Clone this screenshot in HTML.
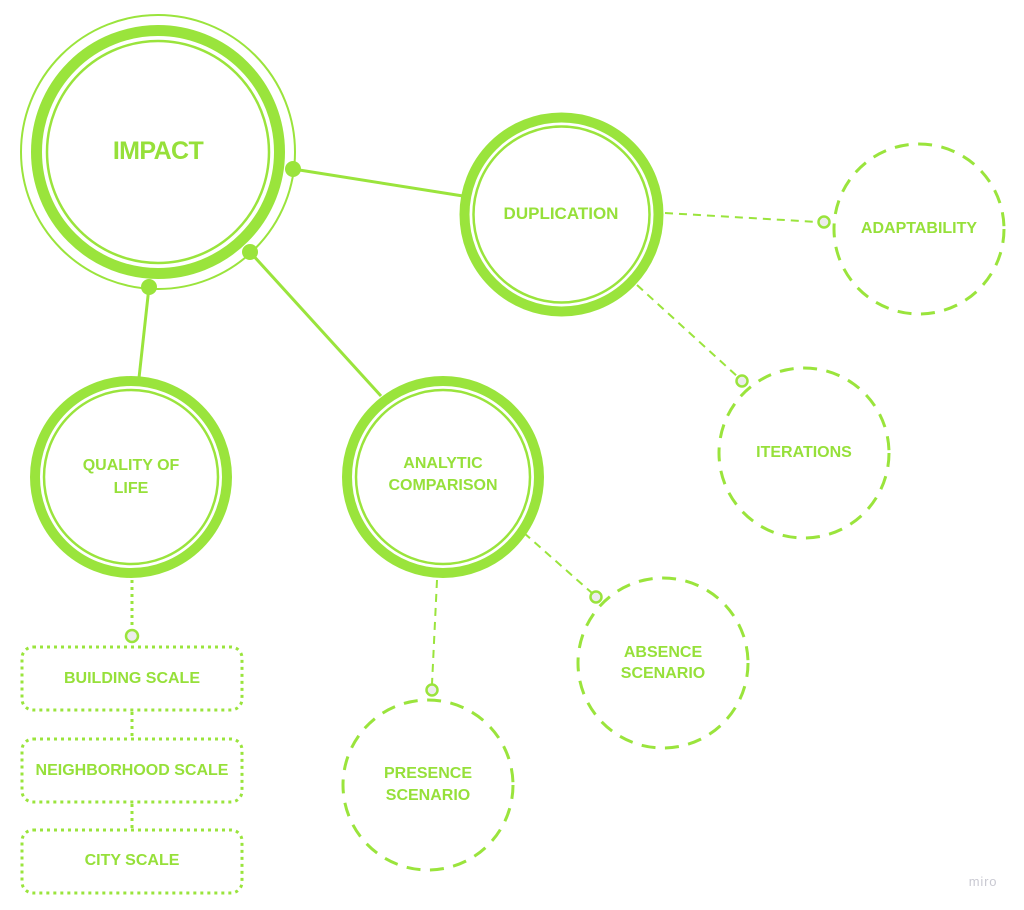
<!DOCTYPE html>
<html><head><meta charset="utf-8"><style>
html,body{margin:0;padding:0;background:#fff;}
svg{display:block;}
text{font-family:"Liberation Sans",Arial,sans-serif;font-weight:bold;fill:#96e03a;text-anchor:middle;}
</style></head><body>
<svg width="1024" height="910" viewBox="0 0 1024 910" xmlns="http://www.w3.org/2000/svg">
<rect width="1024" height="910" fill="#fff"/>
<g stroke="#9ae43c" fill="none">
  <!-- solid connectors -->
  <line x1="293" y1="169" x2="463" y2="196" stroke-width="3"/>
  <line x1="250" y1="252" x2="381" y2="396" stroke-width="3"/>
  <line x1="149" y1="287" x2="139" y2="378" stroke-width="3"/>
  <!-- IMPACT -->
  <circle cx="158" cy="152" r="137" stroke-width="2"/>
  <circle cx="158" cy="152" r="121.5" stroke-width="11"/>
  <circle cx="158" cy="152" r="111" stroke-width="2.5"/>
  <!-- DUPLICATION -->
  <circle cx="561.5" cy="214.5" r="97" stroke-width="10"/>
  <circle cx="561.5" cy="214.5" r="88" stroke-width="2.5"/>
  <!-- QUALITY -->
  <circle cx="131" cy="477" r="96" stroke-width="10"/>
  <circle cx="131" cy="477" r="87" stroke-width="2.5"/>
  <!-- ANALYTIC -->
  <circle cx="443" cy="477" r="96" stroke-width="10"/>
  <circle cx="443" cy="477" r="87" stroke-width="2.5"/>
  <!-- dashed connectors -->
  <g stroke-width="2" stroke-dasharray="8 6">
    <line x1="665" y1="213" x2="818" y2="222"/>
    <line x1="637" y1="285" x2="738" y2="377"/>
    <line x1="524" y1="533" x2="592" y2="593"/>
    <line x1="437" y1="580" x2="432" y2="684"/>
  </g>
  <!-- dashed circles -->
  <g stroke-width="3" stroke-dasharray="14 9.5">
    <circle cx="919" cy="229" r="85"/>
    <circle cx="804" cy="453" r="85"/>
    <circle cx="663" cy="663" r="85"/>
    <circle cx="428" cy="785" r="85"/>
  </g>
  <!-- dotted boxes -->
  <g stroke-width="3" stroke-dasharray="3 4">
    <line x1="132" y1="580" x2="132" y2="630"/>
    <rect x="22" y="647" width="220" height="63" rx="11"/>
    <line x1="132" y1="712" x2="132" y2="737"/>
    <rect x="22" y="739" width="220" height="63" rx="11"/>
    <line x1="132" y1="804" x2="132" y2="828"/>
    <rect x="22" y="830" width="220" height="63" rx="11"/>
  </g>
</g>
<!-- filled dots -->
<g fill="#9ae43c">
  <circle cx="293" cy="169" r="8"/>
  <circle cx="250" cy="252" r="8"/>
  <circle cx="149" cy="287" r="8"/>
</g>
<!-- hollow dots -->
<g fill="#ececec" stroke="#9ae43c" stroke-width="2.5">
  <circle cx="824" cy="222" r="5.5"/>
  <circle cx="742" cy="381" r="5.5"/>
  <circle cx="596" cy="597" r="5.5"/>
  <circle cx="432" cy="690" r="5.5"/>
  <circle cx="132" cy="636" r="6"/>
</g>
<!-- labels -->
<text x="158" y="159" font-size="25" letter-spacing="-0.6">IMPACT</text>
<text x="561" y="219" font-size="17">DUPLICATION</text>
<text x="919" y="233" font-size="16">ADAPTABILITY</text>
<text x="804" y="457" font-size="16">ITERATIONS</text>
<text x="131" y="470" font-size="16">QUALITY OF</text>
<text x="131" y="493" font-size="16">LIFE</text>
<text x="443" y="468" font-size="16">ANALYTIC</text>
<text x="443" y="490" font-size="16">COMPARISON</text>
<text x="663" y="657" font-size="16">ABSENCE</text>
<text x="663" y="678" font-size="16">SCENARIO</text>
<text x="428" y="778" font-size="16">PRESENCE</text>
<text x="428" y="800" font-size="16">SCENARIO</text>
<text x="132" y="683" font-size="16">BUILDING SCALE</text>
<text x="132" y="775" font-size="16">NEIGHBORHOOD SCALE</text>
<text x="132" y="865" font-size="16">CITY SCALE</text>
<text x="983" y="886" font-size="13" style="fill:#c9c9d2;font-weight:normal;" letter-spacing="0.8">miro</text>
</svg>
</body></html>
